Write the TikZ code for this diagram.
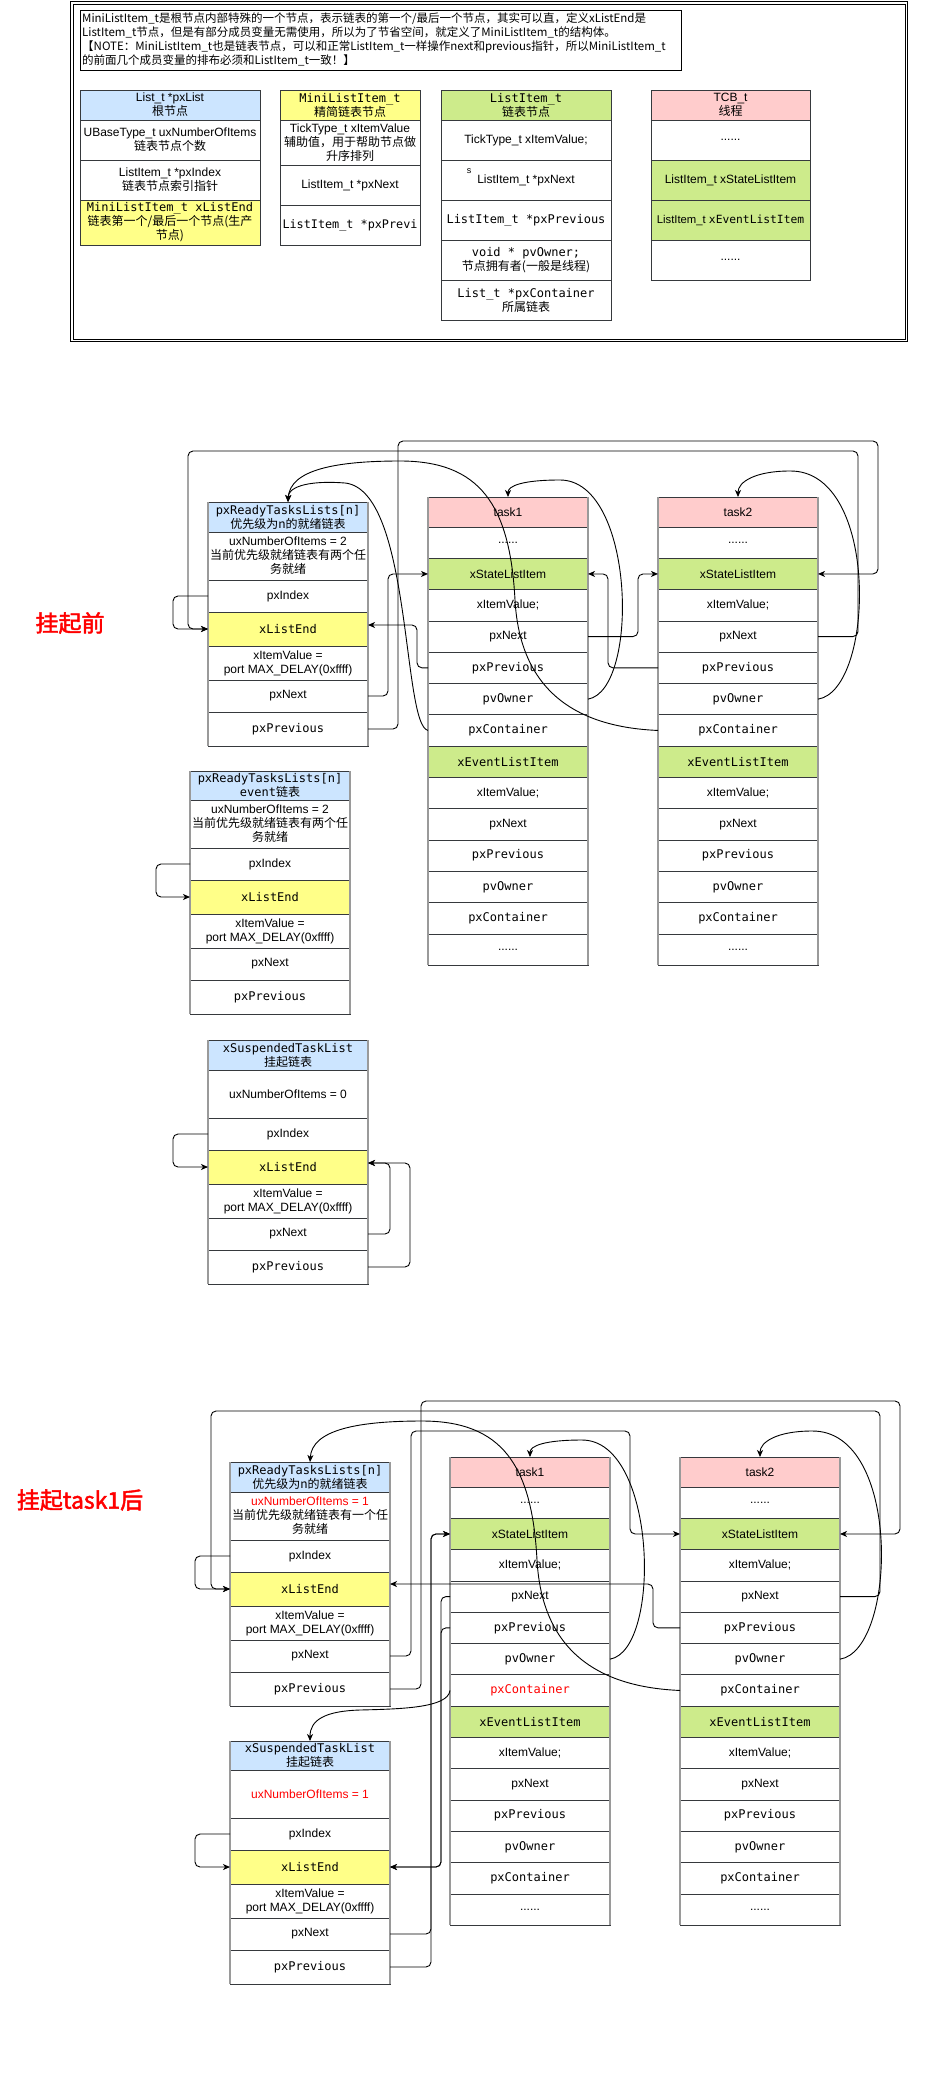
\documentclass[tikz,border=0pt]{standalone}
\usepackage{fontspec}
\setmainfont{Liberation Sans}
\newfontfamily\monofont{DejaVu Sans Mono}
\newfontfamily\zhfont{Noto Sans CJK SC}
\newfontfamily\zhbold{Noto Sans CJK SC}[FakeBold=2]
\usetikzlibrary{arrows.meta}

\definecolor{hdblue}{HTML}{CCE5FF}
\definecolor{endyellow}{HTML}{FFFF88}
\definecolor{itemgreen}{HTML}{CDEB8B}
\definecolor{taskpink}{HTML}{FFCCCC}
\definecolor{rowline}{HTML}{36393D}
\definecolor{sidegray}{HTML}{9A9A9A}

\newcommand\mt[1]{{\monofont #1}}
\newcommand\zh[1]{{\zhfont #1}}

\tikzset{
  cell/.style={draw=rowline, line width=0.8pt, fill=white, inner sep=1pt, outer sep=0pt,
    anchor=north west, align=center, font=\fontsize{12}{14}\selectfont},
  trow/.style={cell, minimum width=160pt, minimum height=31.3pt},
  side/.style={draw=sidegray, line width=1.5pt},
  link/.style={draw=black, line width=0.9pt, rounded corners=5pt,
    -{Stealth[length=7pt,width=6pt,inset=2pt]}},
  curvelink/.style={draw=black, line width=0.9pt,
    -{Stealth[length=7pt,width=6pt,inset=2pt]}},
  tag/.style={text=red, font=\zhbold\fontsize{23}{27}\selectfont},
}

% list head: header, item count, index, end marker and its fields
\newcommand\listbox[7]{%
  \node[cell, fill=hdblue, minimum width=160pt, minimum height=#5pt] (#1-hd) at (#2,#3) {#4};
  \node[cell, minimum width=160pt, minimum height=48pt, #7] (#1-ux) at (#1-hd.south west) {#6};
  \node[cell, minimum width=160pt, minimum height=32pt] (#1-idx) at (#1-ux.south west) {pxIndex};
  \node[cell, fill=endyellow, minimum width=160pt, minimum height=34pt] (#1-end) at (#1-idx.south west) {\mt{xListEnd}};
  \node[cell, minimum width=160pt, minimum height=34pt] (#1-val) at (#1-end.south west) {xItemValue =\\port MAX\_DELAY(0xffff)};
  \node[cell, minimum width=160pt, minimum height=32pt] (#1-next) at (#1-val.south west) {pxNext};
  \node[cell, minimum width=160pt, minimum height=34pt] (#1-prev) at (#1-next.south west) {\mt{pxPrevious}};
  \draw[side] (#1-hd.north west) -- (#1-prev.south west) (#1-hd.north east) -- (#1-prev.south east);
}

% task control block with its two list items
\newcommand\taskbox[5]{%
  \node[cell, fill=taskpink, minimum width=160pt, minimum height=30pt] (#1-hd) at (#2,#3) {#4};
  \node[trow] (#1-r1) at (#1-hd.south west) {......};
  \node[trow, fill=itemgreen] (#1-r2) at (#1-r1.south west) {xStateListItem};
  \node[trow] (#1-r3) at (#1-r2.south west) {xItemValue;};
  \node[trow] (#1-r4) at (#1-r3.south west) {pxNext};
  \node[trow] (#1-r5) at (#1-r4.south west) {\mt{pxPrevious}};
  \node[trow] (#1-r6) at (#1-r5.south west) {\mt{pvOwner}};
  \node[trow, #5] (#1-r7) at (#1-r6.south west) {\mt{pxContainer}};
  \node[trow, fill=itemgreen] (#1-r8) at (#1-r7.south west) {\mt{xEventListItem}};
  \node[trow] (#1-r9) at (#1-r8.south west) {xItemValue;};
  \node[trow] (#1-r10) at (#1-r9.south west) {pxNext};
  \node[trow] (#1-r11) at (#1-r10.south west) {\mt{pxPrevious}};
  \node[trow] (#1-r12) at (#1-r11.south west) {\mt{pvOwner}};
  \node[trow] (#1-r13) at (#1-r12.south west) {\mt{pxContainer}};
  \node[trow] (#1-r14) at (#1-r13.south west) {......};
  \draw[side] (#1-hd.north west) -- (#1-r14.south west) (#1-hd.north east) -- (#1-r14.south east);
}

\begin{document}
\begin{tikzpicture}[x=1pt, y=-1pt]
\useasboundingbox (0,0) rectangle (927,2092);
\fill[white] (0,0) rectangle (927,2092);

% ---------------- legend ----------------
\node[draw, line width=0.9pt, anchor=north west, minimum width=837pt, minimum height=339.5pt, inner sep=0pt] (frameout) at (70,1.5) {};
\node[draw, line width=0.9pt, anchor=north west, minimum width=832pt, minimum height=334.5pt, inner sep=0pt] (framein) at (72.5,4) {};

\node[draw, line width=0.8pt, anchor=north west, minimum width=601pt, minimum height=60pt, inner sep=0pt] (notebox) at (80,10) {};
\node[anchor=north west, align=left, inner sep=0pt, font=\zhfont\fontsize{11.5}{14}\selectfont] (notetext) at (82,12.5)
 {MiniListItem\_t是根节点内部特殊的一个节点，表示链表的第一个/最后一个节点，其实可以直，定义xListEnd是\\
  ListItem\_t节点，但是有部分成员变量无需使用，所以为了节省空间，就定义了MiniListItem\_t的结构体。\\
  【NOTE：MiniListItem\_t也是链表节点，可以和正常ListItem\_t一样操作next和previous指针，所以MiniListItem\_t\\
  的前面几个成员变量的排布必须和ListItem\_t一致！】};

% List_t
\node[cell, fill=hdblue, minimum width=180pt, minimum height=30pt] (lg-list-hd) at (80,90) {List\_t *pxList\\\zh{根节点}};
\node[cell, minimum width=180pt, minimum height=40pt] (lg-list-ux) at (lg-list-hd.south west) {UBaseType\_t uxNumberOfItems\\\zh{链表节点个数}};
\node[cell, minimum width=180pt, minimum height=40pt] (lg-list-idx) at (lg-list-ux.south west) {ListItem\_t *pxIndex\\\zh{链表节点索引指针}};
\node[cell, fill=endyellow, minimum width=180pt, minimum height=45pt] (lg-list-end) at (lg-list-idx.south west) {\mt{MiniListItem\_t xListEnd}\\\zh{链表第一个/最后一个节点(生产}\\\zh{节点)}};

% MiniListItem_t
\node[cell, fill=endyellow, minimum width=140pt, minimum height=30pt] (lg-mini-hd) at (280,90) {\mt{MiniListItem\_t}\\\zh{精简链表节点}};
\node[cell, minimum width=140pt, minimum height=45pt] (lg-mini-val) at (lg-mini-hd.south west) {TickType\_t xItemValue\\\zh{辅助值，用于帮助节点做}\\\zh{升序排列}};
\node[cell, minimum width=140pt, minimum height=40pt] (lg-mini-next) at (lg-mini-val.south west) {ListItem\_t *pxNext};
\node[cell, minimum width=140pt, minimum height=40pt, font=\fontsize{11.8}{14}\selectfont] (lg-mini-prev) at (lg-mini-next.south west) {\mt{ListItem\_t *pxPrevi}};

% ListItem_t
\node[cell, fill=itemgreen, minimum width=170pt, minimum height=30pt] (lg-item-hd) at (441,90) {\mt{ListItem\_t}\\\zh{链表节点}};
\node[cell, minimum width=170pt, minimum height=40pt] (lg-item-val) at (lg-item-hd.south west) {TickType\_t xItemValue;};
\node[cell, minimum width=170pt, minimum height=40pt] (lg-item-next) at (lg-item-val.south west) {ListItem\_t *pxNext};
\node[font=\fontsize{9}{10}\selectfont, inner sep=0pt] (lg-item-s) at (469,171) {s};
\node[cell, minimum width=170pt, minimum height=40pt] (lg-item-prev) at (lg-item-next.south west) {\mt{ListItem\_t *pxPrevious}};
\node[cell, minimum width=170pt, minimum height=40pt] (lg-item-own) at (lg-item-prev.south west) {\mt{void * pvOwner;}\\\zh{节点拥有者(一般是线程)}};
\node[cell, minimum width=170pt, minimum height=40pt] (lg-item-con) at (lg-item-own.south west) {\mt{List\_t *pxContainer}\\\zh{所属链表}};

% TCB_t
\node[cell, fill=taskpink, minimum width=159pt, minimum height=30pt] (lg-tcb-hd) at (651,90) {TCB\_t\\\zh{线程}};
\node[cell, minimum width=159pt, minimum height=40pt] (lg-tcb-d1) at (lg-tcb-hd.south west) {......};
\node[cell, fill=itemgreen, minimum width=159pt, minimum height=40pt] (lg-tcb-st) at (lg-tcb-d1.south west) {ListItem\_t xStateListItem};
\node[cell, fill=itemgreen, minimum width=159pt, minimum height=40pt, font=\fontsize{11.3}{14}\selectfont] (lg-tcb-ev) at (lg-tcb-st.south west) {ListItem\_t \mt{xEventListItem}};
\node[cell, minimum width=159pt, minimum height=40pt] (lg-tcb-d2) at (lg-tcb-ev.south west) {......};

% ---------------- before suspending ----------------
\node[tag] (lbl-before) at (70,623) {挂起前};

\listbox{R1}{208}{502}{\mt{pxReadyTasksLists[n]}\\\zh{优先级为n的就绪链表}}{30}{uxNumberOfItems = 2\\\zh{当前优先级就绪链表有两个任}\\\zh{务就绪}}{}
\listbox{E1}{190}{771}{\mt{pxReadyTasksLists[n]}\\\mt{event}\zh{链表}}{29}{uxNumberOfItems = 2\\\zh{当前优先级就绪链表有两个任}\\\zh{务就绪}}{}
\listbox{S1}{208}{1040}{\mt{xSuspendedTaskList}\\\zh{挂起链表}}{30}{uxNumberOfItems = 0}{}
\taskbox{A1}{428}{497}{task1}{}
\taskbox{A2}{658}{497}{task2}{}

\draw[link] (R1-idx.west) -- ++(-35,0) |- (R1-end.west);
\draw[link] (A2-r4.east) -| (858,451) -| ([xshift=-20pt]R1-end.west) -- (R1-end.west);
\draw[link] (R1-prev.east) -- ++(30,0) |- (878,441) |- (A2-r2.east);
\draw[link] (R1-next.east) -- ++(20,0) |- (A1-r2.west);
\draw[link] (A1-r5.west) -- ++(-11,0) |- ([yshift=4pt]R1-end.east);
\draw[link] (A1-r4.east) -- ++(50,0) |- (A2-r2.west);
\draw[link] (A2-r5.west) -- ++(-50,0) |- (A1-r2.east);
\draw[curvelink] (A1-r7.west) .. controls (402,725) and (412,490) .. (345,483) .. controls (305,480) and (288,488) .. (R1-hd.north);
\draw[curvelink] (A2-r7.west) .. controls (575,727) and (520,690) .. (515,600) .. controls (510,505) and (480,461) .. (400,461) .. controls (335,461) and (290,470) .. (R1-hd.north);
\draw[curvelink] (A1-r6.east) .. controls (640,690) and (635,480) .. (560,480) .. controls (522,480) and (508,486) .. (A1-hd.north);
\draw[curvelink] (A2-r6.east) .. controls (875,690) and (880,470) .. (790,471) .. controls (755,471) and (738,482) .. (A2-hd.north);

\draw[link] (E1-idx.west) -- ++(-34,0) |- (E1-end.west);
\draw[link] (S1-idx.west) -- ++(-35,0) |- (S1-end.west);
\draw[link] (S1-next.east) -- ++(22,0) |- ([yshift=4pt]S1-end.east);
\draw[link] (S1-prev.east) -- ++(42,0) |- ([yshift=4pt]S1-end.east);

% ---------------- after suspending task1 ----------------
\node[tag] (lbl-after) at (80,1500) {挂起task1后};

\listbox{R2}{230}{1462}{\mt{pxReadyTasksLists[n]}\\\zh{优先级为n的就绪链表}}{30}{\textcolor{red}{uxNumberOfItems = 1}\\\zh{当前优先级就绪链表有一个任}\\\zh{务就绪}}{}
\listbox{S2}{230}{1741}{\mt{xSuspendedTaskList}\\\zh{挂起链表}}{29}{uxNumberOfItems = 1}{text=red}
\taskbox{B1}{450}{1457}{task1}{text=red}
\taskbox{B2}{680}{1457}{task2}{}

\draw[link] (R2-idx.west) -- ++(-35,0) |- (R2-end.west);
\draw[link] (B2-r4.east) -| (880,1411) -| ([xshift=-19pt]R2-end.west) -- (R2-end.west);
\draw[link] (R2-prev.east) -- ++(31,0) |- (900,1401) |- (B2-r2.east);
\draw[link] (R2-next.east) -- ++(21,0) |- (630,1431) |- (B2-r2.west);
\draw[link] (B2-r5.west) -- ++(-27,0) |- ([yshift=5pt]R2-end.east);
\draw[curvelink] (B2-r7.west) .. controls (597,1687) and (542,1650) .. (537,1560) .. controls (532,1465) and (502,1421) .. (422,1421) .. controls (357,1421) and (312,1430) .. (R2-hd.north);
\draw[curvelink] (B1-r6.east) .. controls (662,1650) and (657,1440) .. (582,1440) .. controls (544,1440) and (530,1446) .. (B1-hd.north);
\draw[curvelink] (B2-r6.east) .. controls (897,1650) and (902,1430) .. (812,1431) .. controls (777,1431) and (760,1442) .. (B2-hd.north);

\draw[link] (S2-idx.west) -- ++(-35,0) |- (S2-end.west);
\draw[link] (S2-prev.east) -- ++(41,0) |- (B1-r2.west);
\draw[link] (S2-next.east) -- ++(41,0) |- (B1-r2.west);
\draw[link] (B1-r4.west) -- ++(-9,0) |- (S2-end.east);
\draw[link] (B1-r5.west) -- ++(-9,0) |- (S2-end.east);
\draw[curvelink] (B1-r7.west) .. controls (448,1708) and (400,1709) .. (360,1710) .. controls (325,1711) and (310,1720) .. (S2-hd.north);
\end{tikzpicture}
\end{document}
